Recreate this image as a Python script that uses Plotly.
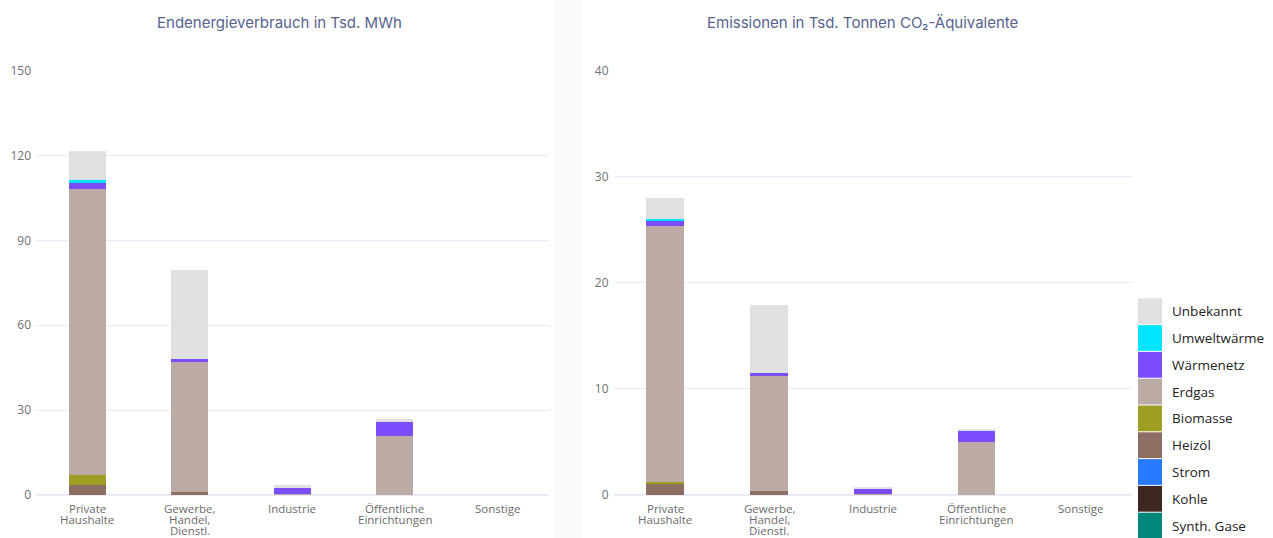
import plotly.graph_objects as go

W, H = 1273, 538

sectors = ["Private Haushalte", "Gewerbe, Handel, Dienstl.", "Industrie",
           "Öffentliche Einrichtungen", "Sonstige"]
sector_lines = [["Private", "Haushalte"], ["Gewerbe,", "Handel,", "Dienstl."], ["Industrie"],
                ["Öffentliche", "Einrichtungen"], ["Sonstige"]]

# stacking order bottom -> top
carriers = ["Synth. Gase", "Kohle", "Strom", "Heizöl", "Biomasse", "Erdgas",
            "Wärmenetz", "Umweltwärme", "Unbekannt"]
colors = ["#00897b", "#3e2723", "#2979ff", "#8d6e63", "#9e9d24", "#bcaaa4",
          "#7c4dff", "#00e5ff", "#e0e0e0"]

# Endenergieverbrauch in Tsd. MWh
energy_synth = [0, 0, 0, 0, 0]
energy_kohle = [0, 0, 0, 0, 0]
energy_strom = [0, 0, 0, 0, 0]
energy_heizoel = [3.5, 1.0, 0, 0, 0]
energy_biomasse = [3.5, 0, 0, 0, 0]
energy_erdgas = [101.1, 46.5, 0.3, 20.9, 0]
energy_waermenetz = [2.3, 0.5, 2.5, 5.0, 0]
energy_umwelt = [1.0, 0, 0, 0, 0]
energy_unbekannt = [10.1, 31.6, 0.7, 0.9, 0]

# Emissionen in Tsd. Tonnen CO2-Äquivalente
emis_synth = [0, 0, 0, 0, 0]
emis_kohle = [0, 0, 0, 0, 0]
emis_strom = [0, 0, 0, 0, 0]
emis_heizoel = [1.07, 0.35, 0, 0, 0]
emis_biomasse = [0.2, 0, 0, 0, 0]
emis_erdgas = [24.05, 10.98, 0.05, 5.0, 0]
emis_waermenetz = [0.55, 0.12, 0.6, 1.1, 0]
emis_umwelt = [0.12, 0, 0, 0, 0]
emis_unbekannt = [2.0, 6.42, 0.15, 0.16, 0]

energy = [energy_synth, energy_kohle, energy_strom, energy_heizoel, energy_biomasse,
          energy_erdgas, energy_waermenetz, energy_umwelt, energy_unbekannt]
emis = [emis_synth, emis_kohle, emis_strom, emis_heizoel, emis_biomasse,
        emis_erdgas, emis_waermenetz, emis_umwelt, emis_unbekannt]

fig = go.Figure()
for name, col, e, m in zip(carriers, colors, energy, emis):
    fig.add_trace(go.Bar(x=sectors, y=e, name=name, marker_color=col,
                         marker_line_width=0, showlegend=False,
                         xaxis="x", yaxis="y"))
    fig.add_trace(go.Bar(x=sectors, y=m, name=name, marker_color=col,
                         marker_line_width=0, showlegend=False,
                         xaxis="x2", yaxis="y2"))

px = lambda v: v / W
py = lambda v: 1 - v / H

tickfont = dict(family="Open Sans, sans-serif", size=12, color="#707070")
ydom = [py(495), py(70.5)]

fig.update_layout(
    width=W, height=H, margin=dict(l=0, r=0, t=0, b=0, autoexpand=False),
    paper_bgcolor="white", plot_bgcolor="white",
    barmode="stack", bargap=0.635,
    xaxis=dict(domain=[px(36), px(548.5)], showticklabels=False, showgrid=False,
               showline=False, ticks="", fixedrange=True),
    yaxis=dict(domain=ydom, range=[0, 150], tickvals=[0, 30, 60, 90, 120, 150],
               tickfont=tickfont, gridcolor="#e8eaf6", zeroline=True,
               zerolinecolor="#e8eaf6", ticklabelstandoff=4, anchor="x"),
    xaxis2=dict(domain=[px(613.5), px(1132)], showticklabels=False, showgrid=False,
                showline=False, ticks="", anchor="y2"),
    yaxis2=dict(domain=ydom, range=[0, 40], tickvals=[0, 10, 20, 30, 40],
                tickfont=tickfont, gridcolor="#e8eaf6", zeroline=True,
                zerolinecolor="#e8eaf6", ticklabelstandoff=4, anchor="x2"),
    font=dict(family="Open Sans, sans-serif"),
)

# category labels, one annotation per line for tight line spacing
for xr in ["x", "x2"]:
    for cat, lines in zip(sectors, sector_lines):
        for k, line in enumerate(lines):
            fig.add_annotation(text=line, xref=xr, yref="paper", x=cat,
                               y=py(508 + 11 * k), xanchor="center", yanchor="middle",
                               showarrow=False,
                               font=dict(family="Open Sans, sans-serif", size=11.5,
                                         color="#6b6b6b"))

# light separator strip between the two panels
fig.add_shape(type="rect", xref="paper", yref="paper",
              x0=px(555), x1=px(582), y0=0, y1=1,
              fillcolor="#f9f9f9", line_width=0, layer="below")

titlefont = dict(family="Inter, sans-serif", size=15, color="#56638f")
fig.add_annotation(text="Endenergieverbrauch in Tsd. MWh", xref="paper", yref="paper",
                   x=px(279), y=py(23), xanchor="center", yanchor="middle",
                   showarrow=False, font=titlefont)
fig.add_annotation(text="Emissionen in Tsd. Tonnen CO₂-Äquivalente", xref="paper",
                   yref="paper", x=px(862), y=py(23), xanchor="center", yanchor="middle",
                   showarrow=False, font=titlefont)

# custom legend with large swatches (top: Unbekannt ... bottom: Synth. Gase)
top = 298.3
step = 26.8
for i, (name, col) in enumerate(zip(carriers[::-1], colors[::-1])):
    y0 = top + i * step
    fig.add_shape(type="rect", xref="paper", yref="paper",
                  x0=px(1138), x1=px(1162), y0=py(y0 + step - 1), y1=py(y0),
                  fillcolor=col, line_width=0)
    fig.add_annotation(text=name, xref="paper", yref="paper",
                       x=px(1170), y=py(y0 + step / 2 - 0.5), xanchor="left",
                       yanchor="middle", showarrow=False,
                       font=dict(family="Open Sans, sans-serif", size=13.5,
                                 color="#222222"))

fig.write_html("out.html", config={"displayModeBar": False},
               post_script="document.body.style.margin='0';")
